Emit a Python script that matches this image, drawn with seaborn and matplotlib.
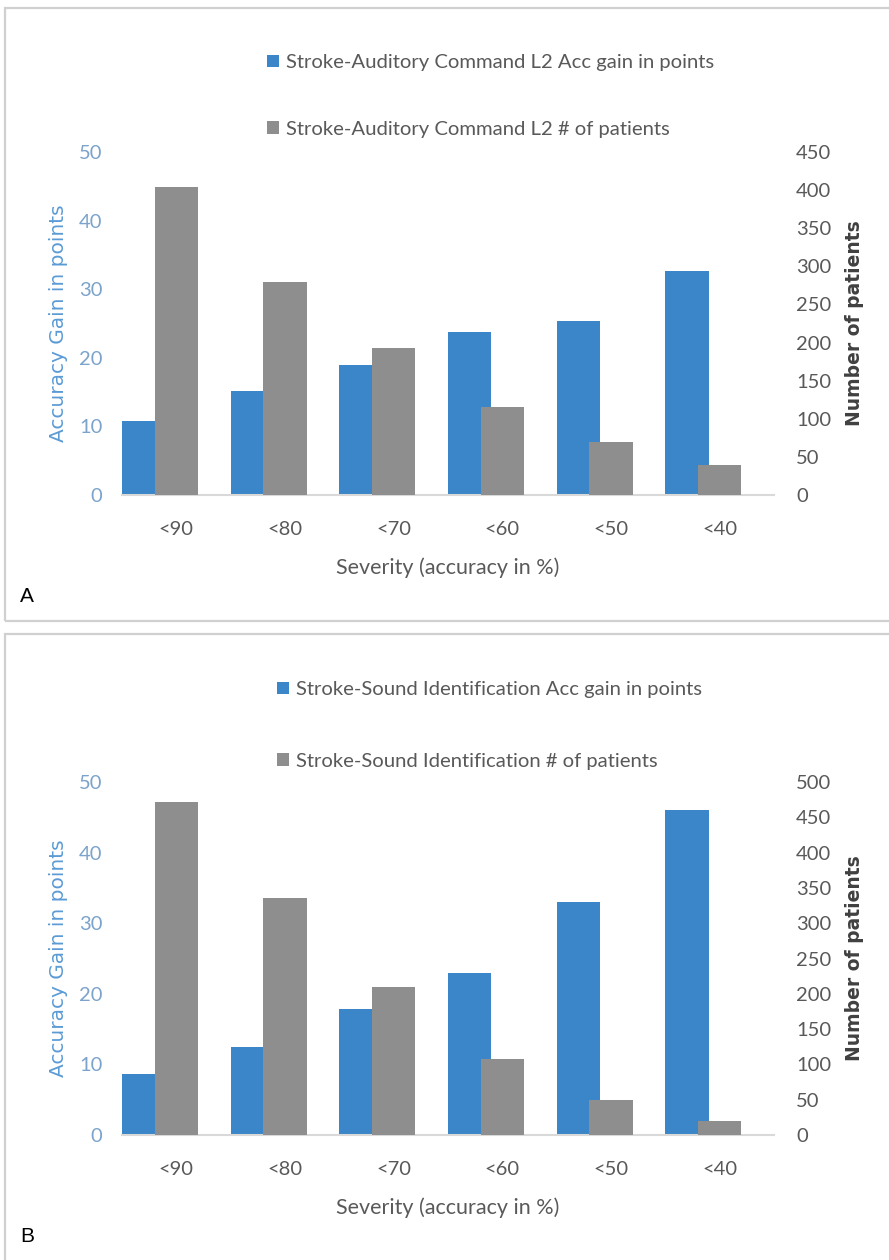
import numpy as np
import pandas as pd
import seaborn as sns
import matplotlib.pyplot as plt
from matplotlib.patches import Rectangle

# data
severity = ['<90', '<80', '<70', '<60', '<50', '<40']
acc_gain_a = [10.8, 15.1, 18.9, 23.7, 25.4, 32.7]
patients_a = [404, 279, 193, 115, 69, 39]
acc_gain_b = [8.6, 12.5, 17.9, 23.0, 33.0, 46.0]
patients_b = [471, 335, 210, 107, 50, 20]

BLUE = '#3A86C8'
GRAY = '#8E8E8E'
TXT = '#595959'

sns.set_theme(style='white')
plt.rcParams['font.family'] = ['Lato', 'DejaVu Sans']

fig = plt.figure(figsize=(8.89, 12.6), dpi=100)


def panel(rect, gain, patients, name, right_max, letter, letter_y, leg_xy, leg_gap):
    ax = fig.add_axes(rect)
    pos = np.arange(len(severity))
    df = pd.DataFrame({'pos': pos, 'gain': gain, 'patients': patients})

    # blue series on the left axis, shifted left; gray on the twin axis, centred
    sns.barplot(data=df.assign(pos=df['pos'] - 0.3), x='pos', y='gain',
                native_scale=True, width=0.4, color=BLUE, saturation=1,
                linewidth=0, edgecolor='none',
                label=f'{name} Acc gain in points', ax=ax)
    ax2 = ax.twinx()
    sns.barplot(data=df, x='pos', y='patients', native_scale=True, width=0.4,
                color=GRAY, saturation=1, linewidth=0, edgecolor='none',
                label=f'{name} # of patients', ax=ax2)

    for a in (ax, ax2):
        a.set_xlim(-0.5, len(severity) - 0.5)
        for s in a.spines.values():
            s.set_visible(False)
        a.tick_params(length=0)
    ax.spines['bottom'].set_visible(True)
    ax.spines['bottom'].set_color('#D9D9D9')
    ax.spines['bottom'].set_linewidth(1.5)

    ax.set_ylim(0, 50)
    ax.set_yticks(range(0, 51, 10))
    ax.tick_params(axis='y', labelsize=14.5, labelcolor='#7BA3CB', pad=14)
    ax.set_ylabel('Accuracy Gain in points', color='#5B9BD5', fontsize=14.5,
                  family='DejaVu Sans', labelpad=8)

    ax2.set_ylim(0, right_max)
    ax2.set_yticks(range(0, right_max + 1, 50))
    ax2.tick_params(axis='y', labelsize=14.5, labelcolor=TXT, pad=16)
    ax2.set_ylabel('Number of patients', color='#404040', fontsize=13.5,
                   family='DejaVu Sans', fontweight='bold', labelpad=10)

    ax.set_xticks(pos)
    ax.set_xticklabels(severity)
    ax.tick_params(axis='x', labelsize=14.5, labelcolor=TXT, pad=19)
    ax.set_xlabel('Severity (accuracy in %)', color=TXT, fontsize=15.5, labelpad=14)

    h1, l1 = ax.get_legend_handles_labels()
    h2, l2 = ax2.get_legend_handles_labels()
    if ax.get_legend() is not None:
        ax.get_legend().remove()
    ax2.legend(h1 + h2, l1 + l2, loc='upper left', bbox_to_anchor=leg_xy,
               bbox_transform=fig.transFigure, frameon=False, fontsize=14.6,
               labelcolor=TXT, handlelength=0.6, handleheight=0.6,
               handletextpad=0.35, labelspacing=leg_gap, borderaxespad=0)

    fig.text(20 / 889, 1 - letter_y / 1260, letter, fontsize=15,
             family='Liberation Sans', color='black', va='center')


panel([122 / 889, 1 - 495 / 1260, 652 / 889, 343 / 1260], acc_gain_a, patients_a,
      'Stroke-Auditory Command L2', 450, 'A', 597, (259 / 889, 1 - 46 / 1260), 2.45)
panel([122 / 889, 1 - 1135 / 1260, 652 / 889, 353 / 1260], acc_gain_b, patients_b,
      'Stroke-Sound Identification', 500, 'B', 1237, (269 / 889, 1 - 673 / 1260), 2.7)

# panel frames
fig.patches.append(Rectangle((5 / 889, 1 - 621 / 1260), 1.0, 613 / 1260,
                             transform=fig.transFigure, fill=False,
                             edgecolor='#D0D0D0', linewidth=1.6))
fig.patches.append(Rectangle((5 / 889, -0.05), 1.0, 1 - 634 / 1260 + 0.05,
                             transform=fig.transFigure, fill=False,
                             edgecolor='#D0D0D0', linewidth=1.6))

fig.savefig('out.png', dpi=100)
